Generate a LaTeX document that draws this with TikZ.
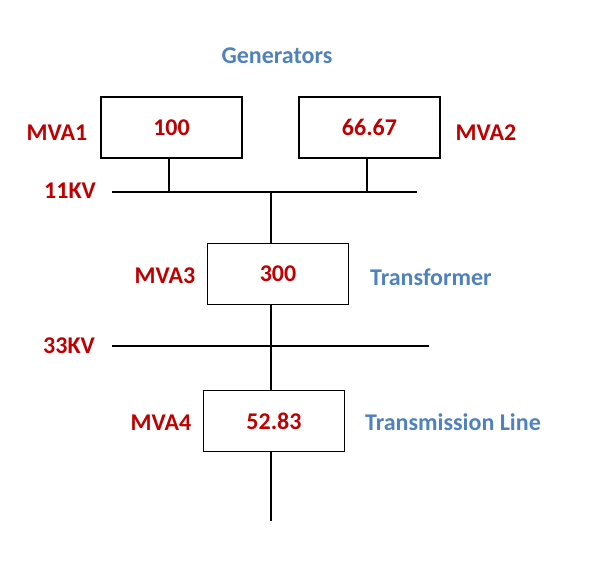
\documentclass[tikz,border=0pt]{standalone}
\usepackage{fontspec}
\setmainfont{Carlito}
\usetikzlibrary{positioning,calc}
\definecolor{labred}{RGB}{192,0,0}
\definecolor{labblue}{RGB}{79,129,189}

\begin{document}
\begin{tikzpicture}[
    x=1pt, y=-1pt,
    thick,
    box/.style={rectangle, draw, line width=1.2pt, minimum width=141pt, minimum height=61pt, font=\bfseries\fontsize{24}{28}\selectfont, text=labred},
    redlabel/.style={font=\bfseries\fontsize{24}{28}\selectfont, text=labred},
    bluelabel/.style={font=\bfseries\fontsize{24}{28}\selectfont, text=labblue},
    wire/.style={line width=1.2pt}
]
\useasboundingbox (0,0) rectangle (602,562);

% Generators
\node [box] (gen1) at (171.5,127.5) {100};
\node [box] (gen2) at (369.5,127.5) {66.67};
\node [bluelabel] (gentitle) at (277,56) {Generators};
\node [redlabel] (mva1) at (57,133) {MVA1};
\node [redlabel] (mva2) at (486,133) {MVA2};

% 11KV bus
\coordinate (busA1) at (112,192);
\coordinate (busA2) at (417,192);
\coordinate (tapA1) at (169,192);
\coordinate (tapA2) at (367,192);
\coordinate (tapA3) at (271,192);
\node [redlabel] (kv11) at (70,191) {11KV};

% Transformer
\node [box] (trafo) at (278,274) {300};
\node [redlabel] (mva3) at (165,276) {MVA3};
\node [bluelabel] (trafolabel) at (431,277) {Transformer};

% 33KV bus
\coordinate (busB1) at (112,346);
\coordinate (busB2) at (429,346);
\node [redlabel] (kv33) at (69,346) {33KV};

% Transmission line
\node [box] (line) at (274,421) {52.83};
\node [redlabel] (mva4) at (161,423) {MVA4};
\node [bluelabel] (linelabel) at (453,422) {Transmission Line};
\coordinate (lineend) at (271,521);

% Connections
\draw [wire] (busA1) -- (busA2);
\draw [wire] (busB1) -- (busB2);
\draw [wire] (gen1.south -| tapA1) -- (tapA1);
\draw [wire] (gen2.south -| tapA2) -- (tapA2);
\draw [wire] (tapA3) -- (trafo.north -| tapA3);
\draw [wire] (trafo.south -| tapA3) -- (line.north -| tapA3);
\draw [wire] (line.south -| tapA3) -- (lineend);

\end{tikzpicture}
\end{document}
